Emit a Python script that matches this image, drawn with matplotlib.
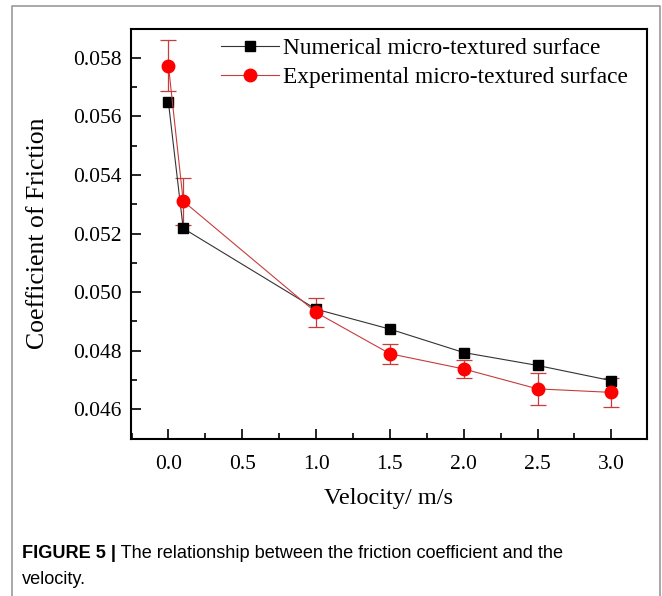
import matplotlib
matplotlib.use("Agg")
import matplotlib.pyplot as plt
from matplotlib.lines import Line2D
from matplotlib.ticker import MultipleLocator

# data
velocity = [0.0, 0.1, 1.0, 1.5, 2.0, 2.5, 3.0]
cof_numerical = [0.05648, 0.05218, 0.04942, 0.04874, 0.04794, 0.04750, 0.04698]
cof_experimental = [0.05774, 0.05311, 0.04931, 0.04790, 0.04738, 0.04670, 0.04658]
err_experimental = [0.00087, 0.00080, 0.00049, 0.00034, 0.00030, 0.00055, 0.00049]

label_num = "Numerical micro-textured surface"
label_exp = "Experimental micro-textured surface"
caption_bold = "FIGURE 5 |"
caption_rest = " The relationship between the friction coefficient and the"
caption_line2 = "velocity."

serif = "Liberation Serif"

fig = plt.figure(figsize=(6.62, 5.96), dpi=100)
ax = fig.add_axes([0.198, 0.264, 0.779, 0.688])

ax.errorbar(velocity, cof_experimental, yerr=err_experimental, fmt="none",
            ecolor="#c83c3c", elinewidth=0.9, capsize=6, capthick=0.9, zorder=2)
ax.plot(velocity, cof_numerical, color="#333333", lw=0.8, marker="s",
        ms=7.5, mfc="black", mec="black", label=label_num, zorder=3)
ax.plot(velocity, cof_experimental, color="#c83c3c", lw=0.8, marker="o",
        ms=9, mfc="red", mec="red", label=label_exp, zorder=4)

ax.set_xlim(-0.253, 3.24)
ax.set_ylim(0.045, 0.059)
ax.xaxis.set_major_locator(MultipleLocator(0.5))
ax.xaxis.set_minor_locator(MultipleLocator(0.25))
ax.yaxis.set_major_locator(MultipleLocator(0.002))
ax.yaxis.set_minor_locator(MultipleLocator(0.001))
ax.yaxis.set_major_formatter(plt.FormatStrFormatter("%.3f"))
ax.xaxis.set_major_formatter(plt.FormatStrFormatter("%.1f"))
ax.tick_params(which="both", direction="in", top=False, right=False,
               width=1.2, labelsize=15.5)
ax.tick_params(axis="y", pad=7)
ax.tick_params(axis="x", pad=12)
ax.tick_params(which="major", length=7)
ax.tick_params(which="minor", length=4)
for lab in ax.get_xticklabels() + ax.get_yticklabels():
    lab.set_family(serif)
for s in ax.spines.values():
    s.set_linewidth(1.5)

ax.set_xlabel("Velocity/ m/s", family=serif, fontsize=17.5, labelpad=10)
ax.set_ylabel("Coefficient of Friction", family=serif, fontsize=18.5, labelpad=17)

ax.legend(loc="upper right", frameon=False, prop={"family": serif, "size": 16.8},
          handlelength=2.45, handletextpad=0.2, labelspacing=0.33,
          bbox_to_anchor=(0.982, 1.0), borderaxespad=0.3, borderpad=0.1)

# outer frame of the figure panel
fig.add_artist(Line2D([12 / 662, 12 / 662, 660 / 662, 660 / 662],
                      [0, 1 - 6 / 596, 1 - 6 / 596, 0],
                      transform=fig.transFigure, color="#999999", lw=1.2))

# caption
t = fig.text(22 / 662, 1 - 553 / 596, caption_bold, family="Liberation Sans",
             fontsize=13.1, fontweight="bold", va="center", ha="left")
fig.canvas.draw()
bb = t.get_window_extent()
fig.text(bb.x1 / fig.bbox.width, 1 - 553 / 596, caption_rest,
         family="Liberation Sans", fontsize=13.1, va="center", ha="left")
fig.text(22 / 662, 1 - 580 / 596, caption_line2, family="Liberation Sans",
         fontsize=13.1, va="center", ha="left")

fig.savefig("out.png", dpi=100)
